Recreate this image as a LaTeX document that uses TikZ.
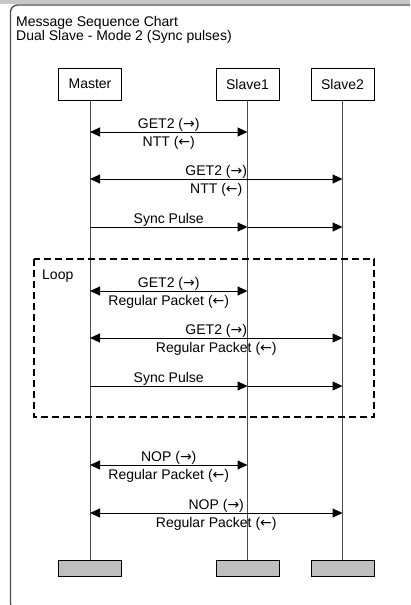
\documentclass[tikz,border=0pt]{standalone}
\usepackage{fontspec}
\setmainfont{Liberation Sans}
\newfontfamily\arrowfont{DejaVu Sans}
\newcommand{\toright}{{\arrowfont →}}
\newcommand{\toleft}{{\arrowfont ←}}
\usetikzlibrary{arrows.meta}

\tikzset{
  actor/.style={draw, fill=white, line width=0.9pt, minimum width=63pt, minimum height=32pt, inner sep=0pt},
  stub/.style={draw, fill=black!25, line width=0.9pt, minimum width=63pt, minimum height=16pt, inner sep=0pt},
  life/.style={draw=black!70, line width=1pt},
  msg/.style={line width=1pt, -{Triangle[length=10pt,width=9pt]}},
  msgboth/.style={line width=1pt, {Triangle[length=10pt,width=9pt]}-{Triangle[length=10pt,width=9pt]}},
  lbltop/.style={midway, anchor=base, yshift=4pt, inner sep=0pt},
  lblbot/.style={midway, anchor=base, yshift=-14pt, inner sep=0pt}
}

\begin{document}
\begin{tikzpicture}[x=1pt, y=-1pt, font=\fontsize{14}{16}\selectfont]

\useasboundingbox (0,0) rectangle (410,605);
\clip (0,0) rectangle (410,605);

%% window
\fill[black!22] (0,0) rectangle (410,4);
\draw[black!70, line width=1.3pt, rounded corners=7pt] (10.5,5) rectangle (430,610);

%% title
\node[anchor=base west, inner sep=0pt] (title) at (16,26) {Message Sequence Chart};
\node[anchor=base west, inner sep=0pt] (subtitle) at (16,40.5) {Dual Slave - Mode 2 (Sync pulses)};

%% actors
\node[actor] (m)  at (90,84)    {Master};
\node[actor] (s1) at (247.5,84) {Slave1};
\node[actor] (s2) at (342.5,84) {Slave2};

%% end of lifelines
\node[stub] (me)  at (90,568)    {};
\node[stub] (s1e) at (247.5,568) {};
\node[stub] (s2e) at (342.5,568) {};

%% lifelines
\draw[life] (m)  -- (me);
\draw[life] (s1) -- (s1e);
\draw[life] (s2) -- (s2e);

%% loop frame
\draw[line width=2pt, dash pattern=on 7pt off 4pt] (33.5,259) rectangle (374,416.5);
\node[anchor=base west, inner sep=0pt] (loop) at (42,279.5) {Loop};

%% message rows
\coordinate (m1) at (90,132);  \coordinate (a1) at (247.5,132);
\coordinate (m2) at (90,179);  \coordinate (b2) at (342.5,179);
\coordinate (m3) at (90,227);  \coordinate (a3) at (247.5,227);  \coordinate (b3) at (342.5,227);
\coordinate (m4) at (90,291);  \coordinate (a4) at (247.5,291);
\coordinate (m5) at (90,338);  \coordinate (b5) at (342.5,338);
\coordinate (m6) at (90,386);  \coordinate (a6) at (247.5,386);  \coordinate (b6) at (342.5,386);
\coordinate (m7) at (90,465);  \coordinate (a7) at (247.5,465);
\coordinate (m8) at (90,513);  \coordinate (b8) at (342.5,513);

%% messages
\draw[msgboth] (m1) -- (a1) node[lbltop] {GET2 (\toright)} node[lblbot] {NTT (\toleft)};   %% master - slave1
\draw[msgboth] (m2) -- (b2) node[lbltop] {GET2 (\toright)} node[lblbot] {NTT (\toleft)};   %% master - slave2
\draw[msg] (m3) -- (a3) node[lbltop] {Sync Pulse};                                        %% sync
\draw[msg] (a3) -- (b3);
\draw[msgboth] (m4) -- (a4) node[lbltop] {GET2 (\toright)} node[lblbot] {Regular Packet (\toleft)};
\draw[msgboth] (m5) -- (b5) node[lbltop] {GET2 (\toright)} node[lblbot] {Regular Packet (\toleft)};
\draw[msg] (m6) -- (a6) node[lbltop] {Sync Pulse};
\draw[msg] (a6) -- (b6);
\draw[msgboth] (m7) -- (a7) node[lbltop] {NOP (\toright)} node[lblbot] {Regular Packet (\toleft)};
\draw[msgboth] (m8) -- (b8) node[lbltop] {NOP (\toright)} node[lblbot] {Regular Packet (\toleft)};

\end{tikzpicture}
\end{document}
